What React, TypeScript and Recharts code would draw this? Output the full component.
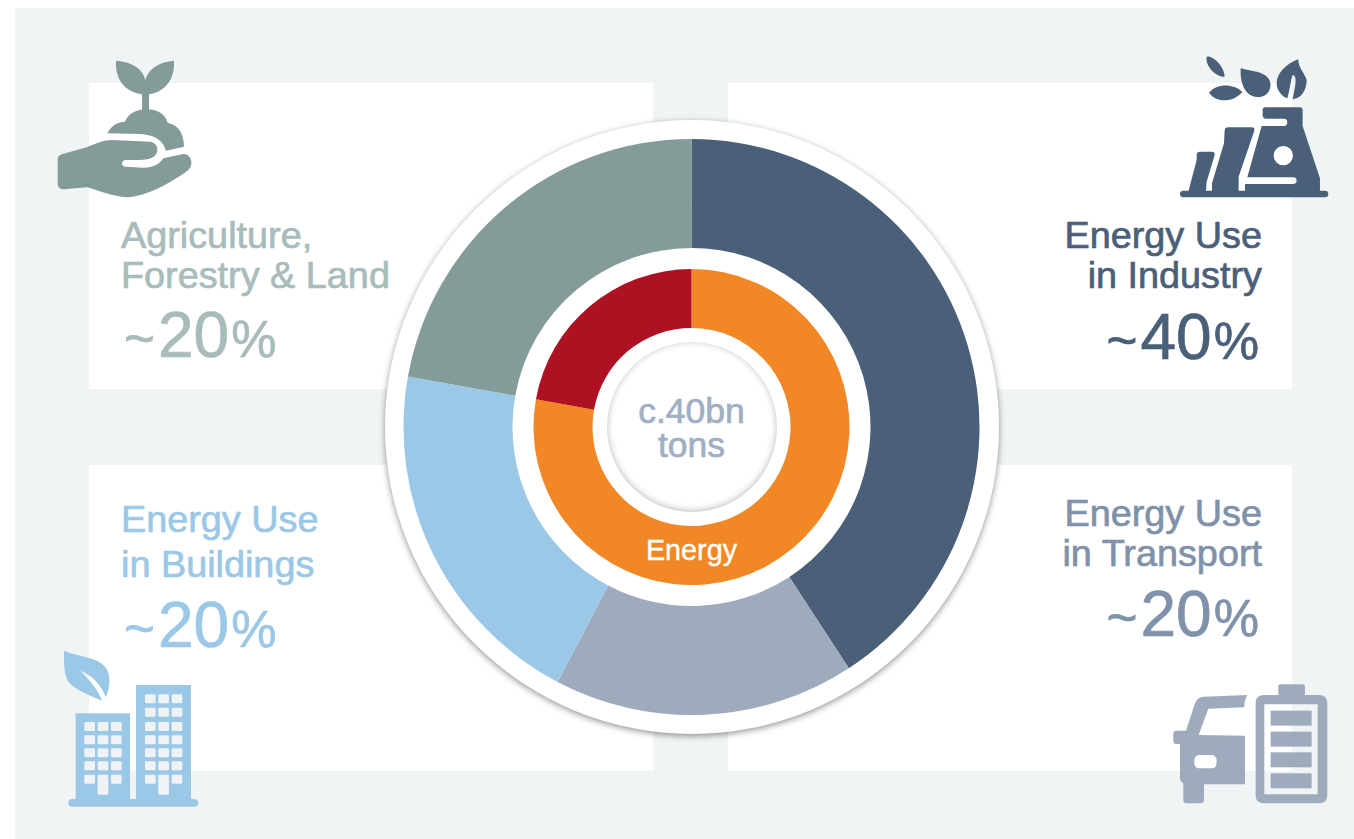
import { PieChart, Pie, Cell } from 'recharts';

// Greenhouse gas sources, share of total
const sectors = ['Energy Use in Industry', 'Energy Use in Transport', 'Energy Use in Buildings', 'Agriculture, Forestry & Land'];
const sectorShares = [40.8, 16.9, 20.1, 22.2];
const sectorColors = ['#4a6079', '#9dabbd', '#9bc8e6', '#849c99'];

const groups = ['Energy', 'Other'];
const groupShares = [77.8, 22.2];
const groupColors = ['#f28825', '#ae1122'];

const outerData = sectors.map((name, i) => ({ name, value: sectorShares[i] }));
const innerData = groups.map((name, i) => ({ name, value: groupShares[i] }));

const WIDTH = 1354;
const HEIGHT = 839;
const CX = 691.5;
const CY = 427;
const FONT = '"Liberation Sans", Arial, sans-serif';

const panels = [
  { left: 89, top: 83 },
  { left: 728, top: 83 },
  { left: 89, top: 465 },
  { left: 728, top: 465 },
];

const disc = (r: number): React.CSSProperties => ({
  position: 'absolute',
  left: CX - r,
  top: CY - r,
  width: r * 2,
  height: r * 2,
  borderRadius: '50%',
  background: '#fff',
});

// Heading lines plus the "~NN%" figure, with a smaller tilde and percent sign
function Callout({ x, anchor, lines, baselines, pct, pctX, pctY, color }: any) {
  return (
    <g fontFamily={FONT} fill={color} stroke={color}>
      {lines.map((line: string, i: number) => (
        <text key={line} x={x} y={baselines[i]} textAnchor={anchor} fontSize={37.8} strokeWidth={0.7}>
          {line}
        </text>
      ))}
      <text x={pctX} y={pctY} textAnchor={anchor} fontSize={64} strokeWidth={0.7}>
        <tspan fontSize={53}>~</tspan>
        <tspan dx={3}>{pct}</tspan>
        <tspan dx={2} fontSize={51}>%</tspan>
      </text>
    </g>
  );
}

function PlantIcon() {
  return (
    <g transform="scale(0.3333)" fill="#839c9a">
      <path d="M348,182 C400,185 430,210 436,240 C445,205 480,185 522,182 C525,240 495,275 447,283 L447,332 L426,332 L426,283 C375,275 345,240 348,182 Z" />
      <path d="M375,365 C385,340 410,328 440,328 C470,328 495,340 503,368 C535,375 552,400 552,440 L498,452 C490,425 470,405 420,402 L322,400 C335,375 355,365 375,365 Z" />
      <path d="M173,478 Q173,468 185,463 L260,442 C290,430 310,420 335,420 L450,425 C470,428 476,445 470,460 C462,475 445,480 420,480 L378,480 C362,480 362,500 378,500 L430,503 C465,503 480,490 490,475 L550,462 C570,460 585,490 565,510 C520,545 440,590 380,592 C340,590 290,570 262,562 L190,568 C178,568 173,560 173,550 Z" />
    </g>
  );
}

function FactoryIcon() {
  return (
    <g transform="translate(1000,0) scale(0.3333)" fill="#4a6079">
      <path d="M620,170 C635,165 672,195 674,230 C650,232 615,200 620,170 Z" />
      <path d="M627,278 C650,250 700,250 727,276 C700,308 650,310 627,278 Z" />
      <path d="M722,205 C760,215 810,215 812,255 C810,285 785,295 765,290 C735,285 720,250 722,205 Z" />
      <path d="M895,178 C860,190 830,220 830,250 C830,270 845,290 862,295 C870,270 872,240 878,225 C885,225 890,235 885,260 L878,298 C905,295 920,270 920,240 C915,220 895,205 895,178 Z" />
      <rect x={540} y={572} width={445} height={20} rx={10} />
      <path
        fillRule="evenodd"
        d="M795,322 L900,322 Q908,322 908,330 L908,378 L960,535 L960,575 L735,575 L735,552 L880,552 Q890,552 890,541 Q890,532 880,532 L742,532 L785,378 L852,378 Q862,378 862,367 Q862,356 852,356 L797,356 Q788,356 788,345 L788,330 Q788,322 795,322 Z M879,467 A29,29 0 1,0 821,467 A29,29 0 1,0 879,467 Z"
      />
      <path d="M685,382 L755,382 Q765,382 763,392 L716,530 L716,575 L636,575 L636,550 L672,430 L674,392 Q675,382 685,382 Z" />
      <path d="M600,455 L636,455 Q645,455 644,465 L620,545 L618,575 L565,575 L590,480 L590,465 Q590,455 600,455 Z" />
    </g>
  );
}

function BuildingIcon() {
  const leftRows = [846, 886, 925, 964, 1004];
  const rightRows = [763, 803, 846, 886, 925, 964, 1004];
  const windows = (columns: number[], rows: number[]) =>
    rows.flatMap((y) =>
      columns.map((x, c) => {
        const door = c === 1 && y === 1004;
        return <rect key={`${x}-${y}`} x={x} y={y} width={32} height={door ? 60 : 27} rx={4} fill="#eff3f5" />;
      })
    );
  return (
    <g transform="translate(0,440) scale(0.3333)" fill="#9bc8e6">
      <path d="M192,632 C230,650 290,650 315,680 C335,705 330,740 318,772 C305,740 280,705 240,692 C270,720 295,750 306,783 C270,765 225,750 205,725 C190,700 192,660 192,632 Z" />
      <rect x={205} y={1077} width={390} height={23} rx={11} />
      <rect x={227} y={820} width={163} height={262} />
      <rect x={408} y={735} width={165} height={347} />
      {windows([253, 293, 333], leftRows)}
      {windows([435, 475, 515], rightRows)}
    </g>
  );
}

function TransportIcon() {
  const cells = [812, 875, 937, 1000];
  return (
    <g transform="translate(1000,440) scale(0.3333)" fill="#9dabbd">
      <path
        fillRule="evenodd"
        d="M610,770 L742,765 Q733,780 733,802 L625,806 L596,885 L735,887 L735,1033 L612,1033 L612,1080 Q612,1090 600,1090 L562,1090 Q550,1090 550,1080 L550,1030 Q540,1025 540,1015 L540,912 L530,912 Q520,912 520,902 L520,882 Q520,872 530,872 L558,872 L585,790 Q592,772 610,770 Z M597,945 L636,945 Q650,945 650,965 Q650,985 636,985 L597,985 Q583,985 583,965 Q583,945 597,945 Z"
      />
      <path
        fillRule="evenodd"
        d="M792,765 L957,765 Q982,765 982,790 L982,1065 Q982,1090 957,1090 L792,1090 Q767,1090 767,1065 L767,790 Q767,765 792,765 Z M793,793 L793,1063 L953,1063 L953,793 Z"
      />
      <rect x={835} y={733} width={80} height={35} rx={6} />
      {cells.map((y) => (
        <rect key={y} x={812} y={y} width={123} height={45} />
      ))}
    </g>
  );
}

export default function App() {
  return (
    <div style={{ position: 'absolute', left: 0, top: 0, width: WIDTH, height: HEIGHT, background: '#fff', overflow: 'hidden' }}>
      <div style={{ position: 'absolute', left: 15, top: 8, width: WIDTH - 15, height: HEIGHT - 8, background: '#f0f4f5' }} />
      {panels.map((p) => (
        <div key={`${p.left}-${p.top}`} style={{ position: 'absolute', left: p.left, top: p.top, width: 564, height: 306, background: '#fff' }} />
      ))}

      <div style={{ ...disc(307), boxShadow: '0 2px 6px rgba(0,0,0,0.42)' }} />

      <div style={{ position: 'absolute', left: 0, top: 0 }}>
        <PieChart width={WIDTH} height={HEIGHT} margin={{ top: 0, right: 0, bottom: 0, left: 0 }}>
          <Pie
            data={outerData}
            dataKey="value"
            nameKey="name"
            cx={CX}
            cy={CY}
            innerRadius={179}
            outerRadius={288}
            startAngle={90}
            endAngle={-270}
            stroke="none"
            isAnimationActive={false}
          >
            {outerData.map((d, i) => (
              <Cell key={d.name} fill={sectorColors[i]} />
            ))}
          </Pie>
          <Pie
            data={innerData}
            dataKey="value"
            nameKey="name"
            cx={CX}
            cy={CY}
            innerRadius={99}
            outerRadius={158}
            startAngle={90}
            endAngle={-270}
            stroke="none"
            isAnimationActive={false}
          >
            {innerData.map((d, i) => (
              <Cell key={d.name} fill={groupColors[i]} />
            ))}
          </Pie>
        </PieChart>
      </div>

      <div style={{ ...disc(85), boxShadow: 'inset 0 -1px 7px rgba(0,0,0,0.28)' }} />

      <svg width={WIDTH} height={HEIGHT} style={{ position: 'absolute', left: 0, top: 0 }}>
        <PlantIcon />
        <FactoryIcon />
        <BuildingIcon />
        <TransportIcon />

        <Callout x={121} anchor="start" lines={['Agriculture,', 'Forestry & Land']} baselines={[248, 288]} pct="20" pctX={124} pctY={357} color="#a8bcbb" />
        <Callout x={1262} anchor="end" lines={['Energy Use', 'in Industry']} baselines={[248, 288]} pct="40" pctX={1259} pctY={359} color="#4a6079" />
        <Callout x={121} anchor="start" lines={['Energy Use', 'in Buildings']} baselines={[532, 577]} pct="20" pctX={124} pctY={647} color="#9bc8e6" />
        <Callout x={1262} anchor="end" lines={['Energy Use', 'in Transport']} baselines={[526, 566]} pct="20" pctX={1259} pctY={636} color="#7f92a9" />

        <g fontFamily={FONT} textAnchor="middle">
          <text x={CX} y={423} fontSize={35.5} fill="#a0afc3" stroke="#a0afc3" strokeWidth={0.7}>c.40bn</text>
          <text x={CX} y={457} fontSize={35.5} fill="#a0afc3" stroke="#a0afc3" strokeWidth={0.7}>tons</text>
          <text x={CX} y={560} fontSize={28.8} fill="#fff" stroke="#fff" strokeWidth={0.35}>Energy</text>
        </g>
      </svg>
    </div>
  );
}
